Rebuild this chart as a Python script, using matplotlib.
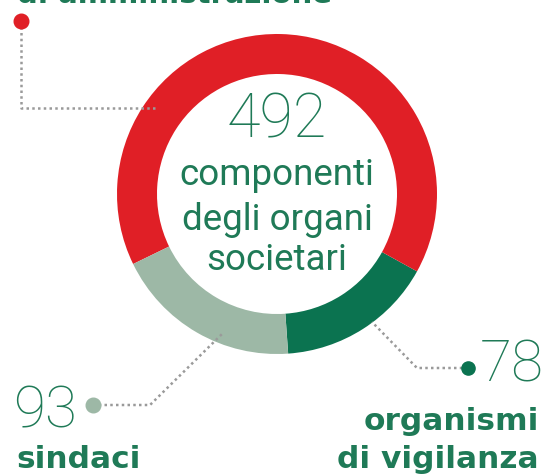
import matplotlib
matplotlib.use("Agg")
import matplotlib.pyplot as plt

# ---- data ----
categories = ["organismi di vigilanza", "consiglieri di amministrazione", "sindaci"]
values = [78, 321, 93]
total = 492
center_lines = ["componenti", "degli organi", "societari"]

RED = "#e01f26"
DKGREEN = "#0b7350"
LTGREEN = "#9db8a6"
TXT = "#1f7a57"
DOT = "#9a9a9a"

W, H = 546, 474
fig = plt.figure(figsize=(W / 100, H / 100), dpi=100)
ax = fig.add_axes([0, 0, 1, 1])

def Y(py):
    return H - py

cx, cy, R = 277, 194, 160
ax.pie(values, colors=[DKGREEN, RED, LTGREEN], startangle=-86, counterclock=True,
       radius=R, center=(cx, Y(cy)), wedgeprops=dict(width=40, linewidth=0))
ax.set_xlim(0, W)
ax.set_ylim(0, H)
ax.set_aspect("equal")
ax.axis("off")

light = dict(family=["Roboto", "DejaVu Sans"], fontweight="light", color=TXT)
reg = dict(family=["Roboto", "DejaVu Sans"], fontweight="normal", color=TXT)
bold = dict(family=["DejaVu Sans"], fontweight="bold", color=TXT)

# center text
ax.text(cx, Y(137), str(total), ha="center", va="baseline", fontsize=44, **light)
for yb, line in zip([185, 230, 270], center_lines):
    ax.text(cx, Y(yb), line, ha="center", va="baseline", fontsize=26.5, **reg)

ls = (0, (1, 1.3))
# top-left leader (red)
ax.plot([21, 21, 157], [Y(21), Y(108), Y(108)], color=DOT, lw=1.8, ls=ls)
ax.plot([21], [Y(21)], "o", color=RED, ms=10.5)
ax.text(17, Y(3), "di amministrazione", ha="left", va="baseline", fontsize=21, **bold)

# sindaci leader
ax.plot([93, 150, 223], [Y(405), Y(405), Y(333)], color=DOT, lw=1.8, ls=ls)
ax.plot([93], [Y(405)], "o", color=LTGREEN, ms=10.5)
ax.text(13, Y(427), str(values[2]), ha="left", va="baseline", fontsize=42, **light)
ax.text(16, Y(468), "sindaci", ha="left", va="baseline", fontsize=22.5, **bold)

# organismi leader
ax.plot([468, 417, 372], [Y(368), Y(368), Y(322)], color=DOT, lw=1.8, ls=ls)
ax.plot([468], [Y(368)], "o", color=DKGREEN, ms=9.5)
ax.text(480, Y(382), str(values[0]), ha="left", va="baseline", fontsize=42, **light)
ax.text(539, Y(430), "organismi", ha="right", va="baseline", fontsize=22.5, **bold)
ax.text(539, Y(468), "di vigilanza", ha="right", va="baseline", fontsize=22.5, **bold)

fig.savefig("out.png", dpi=100)
